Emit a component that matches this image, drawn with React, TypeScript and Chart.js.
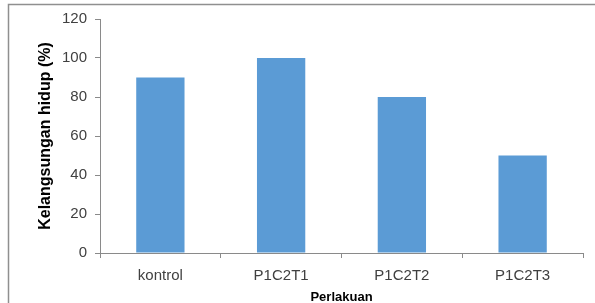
import React, { useEffect, useRef } from "react";
import { Chart, registerables } from "chart.js";

Chart.register(...registerables);

const categories = ["kontrol", "P1C2T1", "P1C2T2", "P1C2T3"];
const survival = [90, 100, 80, 50];
const yTitle = "Kelangsungan hidup (%)";
const xTitle = "Perlakuan";

const frame = {
  id: "frame",
  beforeDraw(chart: any) {
    const ctx = chart.ctx;
    ctx.save();
    ctx.fillStyle = "#ffffff";
    ctx.fillRect(0, 0, chart.width, chart.height);
    ctx.strokeStyle = "#8f8f8f";
    ctx.lineWidth = 1.5;
    ctx.beginPath();
    ctx.moveTo(8.5, chart.height);
    ctx.lineTo(8.5, 4.5);
    ctx.lineTo(chart.width, 4.5);
    ctx.stroke();
    ctx.restore();
  },
};

export default function App() {
  const ref = useRef<HTMLCanvasElement>(null);
  useEffect(() => {
    const chart = new Chart(ref.current!, {
      type: "bar",
      data: {
        labels: categories,
        datasets: [
          {
            data: survival,
            backgroundColor: "#5B9BD5",
            barPercentage: 0.4,
            categoryPercentage: 1,
          },
        ],
      },
      options: {
        responsive: false,
        animation: false,
        layout: { padding: { left: 8, right: 12, top: 19, bottom: 0 } },
        plugins: { legend: { display: false }, tooltip: { enabled: false } },
        scales: {
          x: {
            grid: {
              offset: true,
              drawOnChartArea: false,
              tickLength: 5,
              color: "#8a8a8a",
            },
            border: { color: "#8a8a8a", width: 1 },
            ticks: {
              color: "#404040",
              padding: 9,
              font: { family: "Liberation Sans", size: 15 },
              maxRotation: 0,
            },
            title: {
              display: true,
              text: xTitle,
              color: "#000000",
              font: { family: "Liberation Sans", size: 13, weight: "bold" },
              padding: { top: 0, bottom: -2 },
            },
            afterFit(scale: any) {
              scale.height = 50;
            },
          },
          y: {
            min: 0,
            max: 120,
            ticks: {
              stepSize: 20,
              color: "#404040",
              padding: 8,
              font: { family: "Liberation Sans", size: 15 },
            },
            grid: {
              drawOnChartArea: false,
              tickLength: 5,
              color: "#8a8a8a",
            },
            border: { color: "#8a8a8a", width: 1 },
            title: {
              display: true,
              text: yTitle,
              color: "#000000",
              font: { family: "Liberation Sans", size: 16, weight: "bold" },
              padding: { top: 28, bottom: 0 },
            },
            afterFit(scale: any) {
              scale.width = 92;
            },
          },
        },
      },
      plugins: [frame],
    });
    return () => chart.destroy();
  }, []);
  return (
    <div style={{ position: "absolute", left: 0, top: 0, width: 595, height: 303 }}>
      <canvas ref={ref} width={595} height={303} style={{ display: "block" }} />
    </div>
  );
}
